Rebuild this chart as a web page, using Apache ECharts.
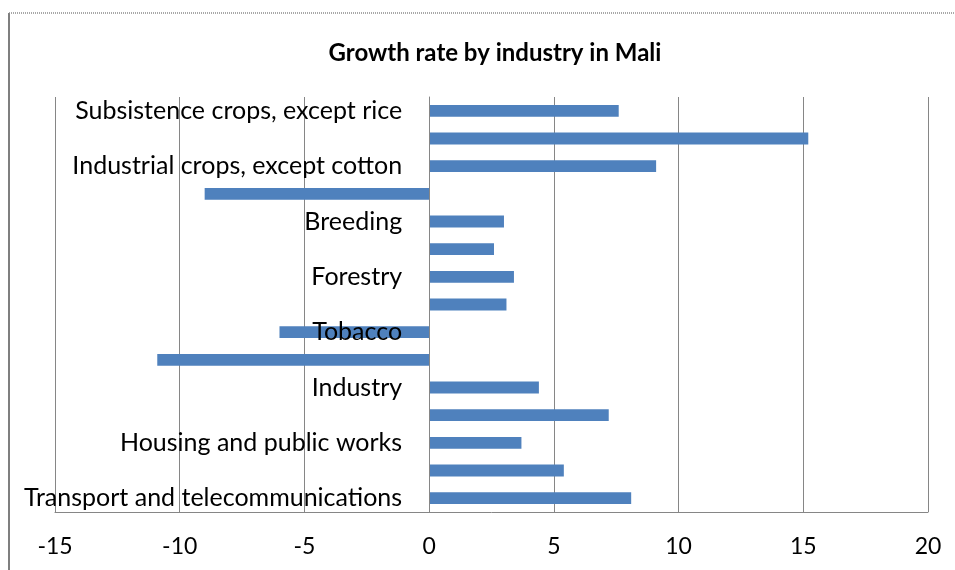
<!DOCTYPE html>
<html>
<head>
<meta charset="utf-8">
<title>Growth rate by industry in Mali</title>
<script src="https://cdn.jsdelivr.net/npm/echarts@6/dist/echarts.min.js"></script>
<style>
  html, body { margin: 0; padding: 0; background: #ffffff; }
  #chart { width: 955px; height: 570px; }
</style>
</head>
<body>
<div id="chart"></div>
<script>
// Sectors, top to bottom; the axis prints every other name
const industries = [
  'Subsistence crops, except rice',
  'Rice',
  'Industrial crops, except cotton',
  'Cotton',
  'Breeding',
  'Fishing',
  'Forestry',
  'Mining',
  'Tobacco',
  'Textiles',
  'Industry',
  'Energy',
  'Housing and public works',
  'Trade',
  'Transport and telecommunications'
];

// Growth rate (%) for each sector
const growthRates = [7.6, 15.2, 9.1, -9.0, 3.0, 2.6, 3.4, 3.1, -6.0, -10.9, 4.4, 7.2, 3.7, 5.4, 8.1];

// Value-axis range and step
const axisMin = -15;
const axisMax = 20;
const axisStep = 5;

const FONT = 'Lato, "Open Sans", sans-serif';

const GRID_LEFT = 55;
const GRID_RIGHT = 27;
const plotWidth = 955 - GRID_LEFT - GRID_RIGHT;
// pixel x of the zero line, where the category names sit beside the axis
const zeroX = GRID_LEFT + plotWidth * (0 - axisMin) / (axisMax - axisMin);

const chart = echarts.init(document.getElementById('chart'), null, { renderer: 'canvas' });

chart.setOption({
  animation: false,
  backgroundColor: '#ffffff',
  title: {
    text: 'Growth rate by industry in Mali',
    left: 490,
    textAlign: 'center',
    top: 36,
    textStyle: { fontFamily: FONT, fontSize: 24, fontWeight: 'bold', color: '#000000' }
  },
  grid: {
    left: GRID_LEFT, right: GRID_RIGHT, top: 97, bottom: 58,
    containLabel: false,
    outerBoundsMode: 'none'
  },
  xAxis: {
    type: 'value',
    min: axisMin,
    max: axisMax,
    interval: axisStep,
    axisLine: { show: true, lineStyle: { color: '#868686', width: 1 } },
    axisTick: { show: false },
    axisLabel: { margin: 23, fontFamily: FONT, fontSize: 23, color: '#000000' },
    splitLine: { show: true, lineStyle: { color: '#868686', width: 1 } }
  },
  yAxis: {
    type: 'category',
    inverse: true,
    data: industries,
    z: 5,
    axisLine: { show: true, onZero: true, lineStyle: { color: '#868686', width: 1 } },
    axisTick: { show: false },
    axisLabel: {
      interval: 1,
      margin: GRID_LEFT - (zeroX - 27),
      fontFamily: FONT, fontSize: 25, color: '#000000'
    },
    splitLine: { show: false }
  },
  series: [{
    type: 'bar',
    data: growthRates,
    barWidth: '43%',
    itemStyle: { color: '#4F81BD' }
  }],
  graphic: [
    {
      type: 'line',
      shape: { x1: 9, y1: 13, x2: 9, y2: 570 },
      style: { stroke: '#7f7f7f', lineWidth: 2 }
    },
    {
      type: 'line',
      shape: { x1: 9, y1: 13, x2: 955, y2: 13 },
      style: { stroke: '#8c8c8c', lineWidth: 1.5, lineDash: [1, 1] }
    }
  ]
});
</script>
</body>
</html>
